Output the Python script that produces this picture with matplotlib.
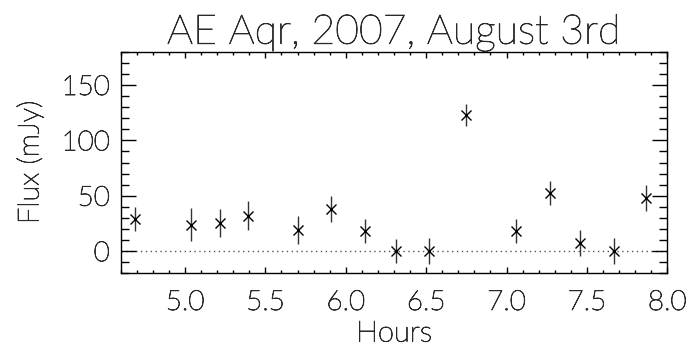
import matplotlib
matplotlib.use('Agg')
import matplotlib.pyplot as plt
import matplotlib.patheffects as pe
from matplotlib.ticker import MultipleLocator

# Data
hours = [4.69, 5.04, 5.22, 5.39, 5.70, 5.91, 6.12, 6.31, 6.52, 6.75, 7.06, 7.27, 7.46, 7.67, 7.87]
flux = [29.4, 24.0, 25.2, 32.1, 18.9, 38.1, 18.0, 0.0, 0.0, 122.9, 18.0, 52.5, 7.5, 0.0, 48.0]
flux_err = [10.8, 14.7, 12.7, 12.9, 12.7, 12.0, 10.8, 10.8, 11.7, 9.9, 10.8, 10.8, 11.7, 11.7, 11.7]

plt.rcParams['font.family'] = ['Lato', 'DejaVu Sans']
plt.rcParams['font.weight'] = 'light'
plt.rcParams['axes.titleweight'] = 'light'
plt.rcParams['axes.labelweight'] = 'light'

# thin hairline font, thickened a little so it reads like the plotter font
thin = [pe.withStroke(linewidth=0.6, foreground='#2a2a2a')]

fig = plt.figure(figsize=(6.9, 3.52), dpi=100)
ax = fig.add_axes([0.175, 0.2236, 0.792, 0.6294])

# zero level
ax.axhline(0, color='#555555', linestyle=(0, (1, 2.5)), linewidth=1.0, zorder=1)

ax.errorbar(hours, flux, yerr=flux_err, fmt='x', color='black', ecolor='#333333',
            elinewidth=1.0, capsize=0, markersize=7, markeredgewidth=1.0, zorder=3)

ax.set_xlim(4.6, 8.0)
ax.set_ylim(-20, 180)
ax.xaxis.set_minor_locator(MultipleLocator(0.1))
ax.yaxis.set_minor_locator(MultipleLocator(10))
ax.set_xticks([5.0, 5.5, 6.0, 6.5, 7.0, 7.5, 8.0])
ax.set_xticklabels(['5.0', '5.5', '6.0', '6.5', '7.0', '7.5', '8.0'])
ax.set_yticks([0, 50, 100, 150])

ax.tick_params(axis='both', which='both', direction='in', top=True, right=True,
               labelsize=20, color='black', width=1.0, labelcolor='#2a2a2a')
ax.tick_params(axis='x', which='major', length=4.5, pad=12)
ax.tick_params(axis='x', which='minor', length=2.5)
ax.tick_params(axis='y', which='major', length=11, pad=8)
ax.tick_params(axis='y', which='minor', length=5.5)

for sp in ax.spines.values():
    sp.set_linewidth(1.0)

ax.set_xlabel('Hours', fontsize=21, color='#2a2a2a', labelpad=4)
ax.set_ylabel('Flux (mJy)', fontsize=21, color='#2a2a2a', labelpad=13)
ax.set_title('AE Aqr, 2007, August 3rd', fontsize=29.5, color='#2a2a2a', pad=4)

for t in ax.get_xticklabels() + ax.get_yticklabels() + [ax.xaxis.label, ax.yaxis.label, ax.title]:
    t.set_path_effects(thin)

fig.savefig('out.png', dpi=100)
